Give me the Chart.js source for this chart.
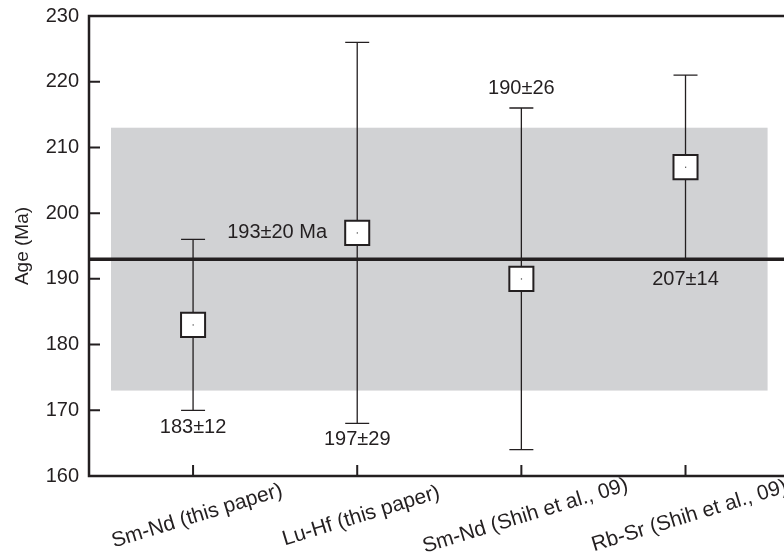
<!DOCTYPE html>
<html>
<head>
<meta charset="utf-8">
<script src="https://cdn.jsdelivr.net/npm/chart.js@4/dist/chart.umd.min.js"></script>
<style>
  html, body { margin: 0; padding: 0; background: #fff; }
  #wrap { width: 784px; height: 553px; }
</style>
</head>
<body>
<div id="wrap"><canvas id="c" width="784" height="553"></canvas></div>
<script>
// age data (Ma)
const methods = ['Sm-Nd (this paper)', 'Lu-Hf (this paper)', 'Sm-Nd (Shih et al., 09)', 'Rb-Sr (Shih et al., 09)'];
const ages = [183, 197, 190, 207];
const errLow = [170, 168, 164, 193];
const errHigh = [196, 226, 216, 221];
const ageLabels = ['183±12', '197±29', '190±26', '207±14'];
const meanAge = 193;
const meanLabel = '193±20 Ma';
const band = [173, 213];
const yTicks = [160, 170, 180, 190, 200, 210, 220, 230];

// where each age label sits (x index, y in Ma)
const labelAt = [[1, 167.4], [2, 165.6], [3, 219.0], [4, 189.9]];
const meanLabelAt = [1.512, 197.0];

const FONT = '"Liberation Sans", Arial, sans-serif';
const INK = '#231f20';

const xs = methods.map((m, i) => i + 1);

const overlay = {
  id: 'overlay',
  beforeDatasetsDraw(chart) {
    const { ctx, scales: { x, y } } = chart;
    ctx.save();
    // grey band
    ctx.fillStyle = '#d1d2d4';
    const bx0 = x.getPixelForValue(0.5), bx1 = x.getPixelForValue(4.5);
    const by0 = y.getPixelForValue(band[1]), by1 = y.getPixelForValue(band[0]);
    ctx.fillRect(bx0, by0, bx1 - bx0, by1 - by0);
    // error bars
    ctx.strokeStyle = INK;
    ctx.lineWidth = 1.3;
    xs.forEach((v, i) => {
      const px = x.getPixelForValue(v);
      const lo = y.getPixelForValue(errLow[i]), hi = y.getPixelForValue(errHigh[i]);
      ctx.beginPath();
      ctx.moveTo(px, lo); ctx.lineTo(px, hi);
      ctx.moveTo(px - 12, hi); ctx.lineTo(px + 12, hi);
      if (i < 3) { ctx.moveTo(px - 12, lo); ctx.lineTo(px + 12, lo); }
      ctx.stroke();
    });
    ctx.restore();
  },
  afterDatasetsDraw(chart) {
    const { ctx, scales: { x, y } } = chart;
    ctx.save();
    ctx.fillStyle = '#444';
    xs.forEach((v, i) => {
      ctx.fillRect(x.getPixelForValue(v) - 0.5, y.getPixelForValue(ages[i]) - 0.5, 1.2, 1.2);
    });
    ctx.restore();
  },
  afterDraw(chart) {
    const { ctx, chartArea: a, scales: { x, y } } = chart;
    ctx.save();
    // axes frame: left, bottom, top
    ctx.strokeStyle = INK;
    ctx.lineWidth = 2.5;
    ctx.beginPath();
    ctx.moveTo(a.right, a.top); ctx.lineTo(a.left, a.top);
    ctx.lineTo(a.left, a.bottom); ctx.lineTo(a.right, a.bottom);
    ctx.stroke();
    // inward ticks
    ctx.lineWidth = 2;
    ctx.beginPath();
    yTicks.forEach(t => {
      const py = y.getPixelForValue(t);
      ctx.moveTo(a.left, py); ctx.lineTo(a.left + 11, py);
    });
    xs.forEach(v => {
      const px = x.getPixelForValue(v);
      ctx.moveTo(px, a.bottom); ctx.lineTo(px, a.bottom - 11);
    });
    ctx.stroke();
    // value labels
    ctx.fillStyle = INK;
    ctx.font = '20px ' + FONT;
    ctx.textAlign = 'center';
    ctx.textBaseline = 'middle';
    labelAt.forEach((p, i) => {
      ctx.fillText(ageLabels[i], x.getPixelForValue(p[0]), y.getPixelForValue(p[1]));
    });
    ctx.fillText(meanLabel, x.getPixelForValue(meanLabelAt[0]), y.getPixelForValue(meanLabelAt[1]));
    // rotated category labels
    ctx.font = '21px ' + FONT;
    xs.forEach((v, i) => {
      const px = x.getPixelForValue(v);
      ctx.save();
      ctx.translate(px + 4, a.bottom + 40);
      ctx.rotate(-17 * Math.PI / 180);
      ctx.fillText(methods[i], 0, 0);
      ctx.restore();
    });
    ctx.restore();
  }
};

new Chart(document.getElementById('c'), {
  type: 'scatter',
  data: {
    datasets: [
      {
        // age markers
        data: xs.map((v, i) => ({ x: v, y: ages[i] })),
        pointStyle: 'rect',
        radius: 17,
        hoverRadius: 17,
        backgroundColor: '#fff',
        borderColor: INK,
        borderWidth: 2
      },
      {
        // weighted mean line
        type: 'line',
        data: [{ x: 0.36, y: meanAge }, { x: 4.6, y: meanAge }],
        borderColor: INK,
        borderWidth: 3.5,
        pointRadius: 0,
        fill: false
      }
    ]
  },
  options: {
    responsive: false,
    animation: false,
    layout: { autoPadding: false, padding: { top: 14, bottom: 77, left: 0, right: 0 } },
    plugins: { legend: { display: false }, tooltip: { enabled: false } },
    scales: {
      x: { type: 'linear', min: 0.366, max: 4.6, display: false },
      y: {
        min: 160, max: 230,
        afterFit(s) { s.width = 89; },
        grid: { display: false, drawTicks: false },
        border: { display: false },
        ticks: {
          stepSize: 10,
          padding: 10,
          color: INK,
          font: { family: FONT, size: 20, lineHeight: 0.6 }
        },
        title: {
          display: true,
          text: 'Age (Ma)',
          color: INK,
          font: { family: FONT, size: 19 },
          padding: { top: 11, bottom: 4 }
        }
      }
    }
  },
  plugins: [overlay]
});
</script>
</body>
</html>
